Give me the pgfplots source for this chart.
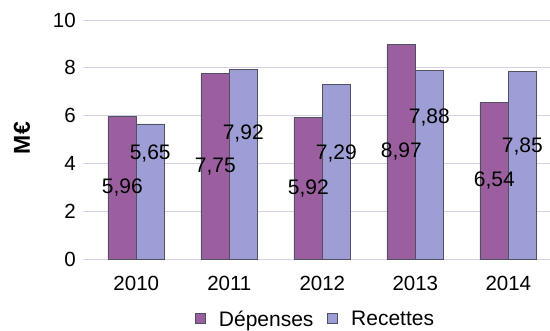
\documentclass[border=0pt]{standalone}
\usepackage{pgfplots}
\pgfplotsset{compat=1.18}
\usepackage{fontspec}
\setmainfont{Liberation Sans}
\definecolor{dep}{HTML}{9B5FA0}
\definecolor{rec}{HTML}{9E9ED6}
\definecolor{edge}{HTML}{505060}
\definecolor{gridc}{HTML}{D4D0E6}
\begin{document}
\fontsize{21}{24}\selectfont
\begin{tikzpicture}
\begin{axis}[name=ax,
  scale only axis, width=467pt, height=239pt,
  ybar=0pt, bar width=0.305,
  xmin=-0.573, xmax=4.448, ymin=0, ymax=10,
  xtick=data, xticklabels={2010,2011,2012,2013,2014},
  ytick={0,2,4,6,8,10},
  /pgf/number format/assume math mode=true,
  tick style={draw=none},
  axis line style={draw=none},
  ymajorgrids, grid style={gridc, line width=0.8pt},
  ticklabel style={font=\fontsize{20.5}{24}\selectfont},
  xticklabel style={yshift=-6pt},
  ylabel={\bfseries M€},
  ylabel style={font=\fontsize{23}{26}\selectfont, at={(rel axis cs:0,0.506)}, anchor=center, yshift=61pt},
  legend style={at={(0.496,-0.256)}, anchor=center, draw=none, fill=none,
    legend columns=2, font=\fontsize{20.5}{24}\selectfont,
    nodes={inner sep=0pt},
    /tikz/every even column/.append style={column sep=14pt}},
  legend image code/.code={\draw[#1, line width=0.6pt] (0pt,-3pt) rectangle (10pt,7pt); \path (23pt,0pt);},
  clip=false,
  nodes={font=\fontsize{21}{24}\selectfont},
]
\addplot[fill=dep, draw=edge, line width=0.8pt] coordinates {(0,5.96) (1,7.75) (2,5.92) (3,8.97) (4,6.54)};
\addplot[fill=rec, draw=edge, line width=0.8pt] coordinates {(0,5.65) (1,7.92) (2,7.29) (3,7.88) (4,7.85)};
\legend{Dépenses, Recettes}
\node at (axis cs:-0.15,2.98) {5,96};
\node at (axis cs:0.85,3.88) {7,75};
\node at (axis cs:1.85,2.96) {5,92};
\node at (axis cs:2.85,4.48) {8,97};
\node at (axis cs:3.85,3.27) {6,54};
\node at (axis cs:0.15,4.43) {5,65};
\node at (axis cs:1.15,5.27) {7,92};
\node at (axis cs:2.15,4.43) {7,29};
\node at (axis cs:3.15,5.90) {7,88};
\node at (axis cs:4.15,4.69) {7,85};
\end{axis}
\pgfresetboundingbox
\path ([shift={(-83pt,-71pt)}]ax.south west) rectangle ([shift={(467pt,259pt)}]ax.south west);
\end{tikzpicture}
\end{document}
